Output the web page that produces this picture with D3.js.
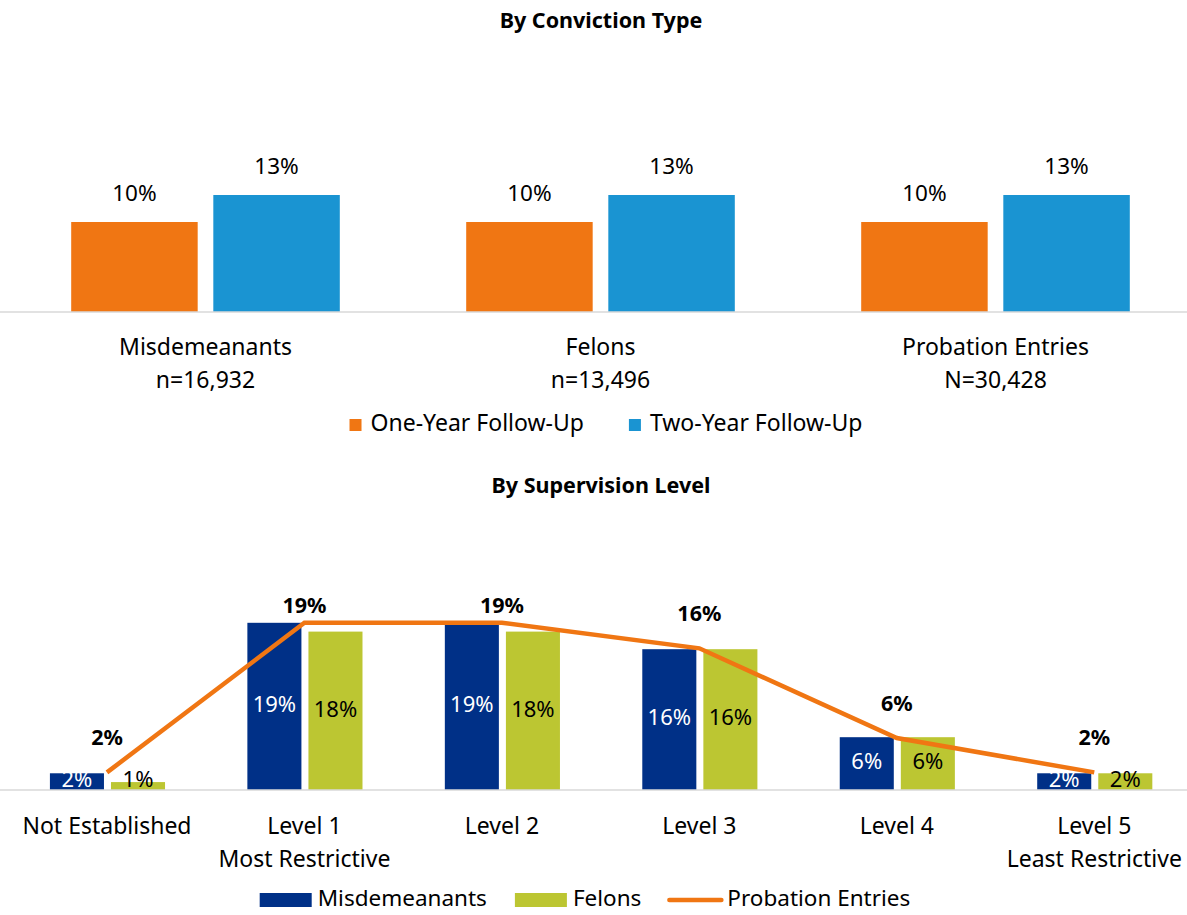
<!DOCTYPE html>
<html>
<head>
<meta charset="utf-8">
<style>
  body { margin: 0; background: #fff; }
  svg text { font-family: "Noto Sans", sans-serif; fill: #000; }
</style>
</head>
<body>
<div class="chart"></div>
<script src="https://d3js.org/d3.v7.min.js"></script>
<script>
  // top chart: by conviction type
  const convCats = ['Misdemeanants', 'Felons', 'Probation Entries'];
  const convN = ['n=16,932', 'n=13,496', 'N=30,428'];
  const oneYear = [10, 10, 10];
  const twoYear = [13, 13, 13];

  // bottom chart: by supervision level
  const levelCats = ['Not Established', 'Level 1', 'Level 2', 'Level 3', 'Level 4', 'Level 5'];
  const levelSub = ['', 'Most Restrictive', '', '', '', 'Least Restrictive'];
  const misdVals = [1.9, 19, 19, 16, 6, 1.9];
  const felonVals = [0.9, 18, 18, 16, 6, 1.9];
  const probVals = [2, 19, 19, 16.1, 5.9, 2];

  const W = 1187, H = 915;
  const orange = '#f07613', blue = '#1a94d2', navy = '#003087', lime = '#bcc632';
  const pct = v => Math.round(v) + '%';
  const fs = '23px';

  const svg = d3.select('.chart').append('svg')
                .attr('width', W)
                .attr('height', H);

  // ---------- top ----------
  const base1 = 312;
  svg.append('text')
     .attr('x', 601).attr('y', 22)
     .attr('text-anchor', 'middle').attr('dominant-baseline', 'middle')
     .style('font-weight', 'bold').style('font-size', '21.5px')
     .text('By Conviction Type');

  const x1 = d3.scaleBand().domain(convCats).range([8, 1193]);
  const x1s = d3.scaleBand().domain(['one', 'two'])
                .range([x1.bandwidth() * 0.16, x1.bandwidth() * 0.84])
                .paddingInner(0.11);
  const y1 = d3.scaleLinear().domain([0, 14]).range([base1, base1 - 126]);

  const rows1 = convCats.map((c, i) => ({c, i, one: oneYear[i], two: twoYear[i]}));
  const g1 = svg.append('g').selectAll('g.cat').data(rows1).join('g')
                .attr('class', 'cat')
                .attr('transform', d => `translate(${x1(d.c)},0)`);
  [['one', orange], ['two', blue]].forEach(([k, col]) => {
    g1.append('rect')
      .attr('x', x1s(k)).attr('width', x1s.bandwidth())
      .attr('y', d => y1(d[k])).attr('height', d => base1 - y1(d[k]))
      .attr('fill', col);
    g1.append('text')
      .attr('x', x1s(k) + x1s.bandwidth() / 2)
      .attr('y', d => y1(d[k]) - 27)
      .attr('text-anchor', 'middle').attr('dominant-baseline', 'middle')
      .style('font-size', '22.5px')
      .text(d => pct(d[k]));
  });

  const ax1 = svg.append('g')
     .attr('transform', `translate(0,${base1})`)
     .call(d3.axisBottom(x1).tickSize(0).tickFormat(''));
  ax1.select('.domain').attr('d', 'M0,0H1187').attr('stroke', '#d9d9d9').attr('stroke-width', 1.5);
  ax1.selectAll('.tick').each(function(d, i) {
    const t = d3.select(this).append('text')
      .attr('text-anchor', 'middle').style('font-size', fs);
    t.append('tspan').attr('x', 0).attr('y', 43).text(d);
    t.append('tspan').attr('x', 0).attr('y', 76).text(convN[i]);
  });

  // top legend
  drawLegend(svg, 606, 425, [
    {label: 'One-Year Follow-Up', color: orange, type: 'sq'},
    {label: 'Two-Year Follow-Up', color: blue, type: 'sq'}
  ], 12, 9, 45, fs);

  // ---------- bottom ----------
  const base2 = 790;
  svg.append('text')
     .attr('x', 601).attr('y', 487)
     .attr('text-anchor', 'middle').attr('dominant-baseline', 'middle')
     .style('font-weight', 'bold').style('font-size', '21.5px')
     .text('By Supervision Level');

  const x2 = d3.scaleBand().domain(levelCats).range([8.25, 1193]);
  const x2s = d3.scaleBand().domain(['m', 'f'])
                .range([x2.bandwidth() * 0.211, x2.bandwidth() * 0.794])
                .paddingInner(0.115);
  const y2 = d3.scaleLinear().domain([0, 20]).range([base2, base2 - 176]);
  const plotTop2 = 590;

  const rows2 = levelCats.map((c, i) => ({c, i, m: misdVals[i], f: felonVals[i], p: probVals[i]}));
  const g2 = svg.append('g').selectAll('g.cat').data(rows2).join('g')
                .attr('class', 'cat')
                .attr('transform', d => `translate(${x2(d.c)},0)`);
  [['m', navy], ['f', lime]].forEach(([k, col]) => {
    g2.append('rect')
      .attr('x', x2s(k)).attr('width', x2s.bandwidth())
      .attr('y', d => y2(d[k])).attr('height', d => base2 - y2(d[k]))
      .attr('fill', col);
  });

  const ax2 = svg.append('g')
     .attr('transform', `translate(0,${base2})`)
     .call(d3.axisBottom(x2).tickSize(0).tickFormat(''));
  ax2.select('.domain').attr('d', 'M0,0H1187').attr('stroke', '#d9d9d9').attr('stroke-width', 1.5);
  ax2.selectAll('.tick').each(function(d, i) {
    const t = d3.select(this).append('text')
      .attr('text-anchor', 'middle').style('font-size', fs);
    t.append('tspan').attr('x', 0).attr('y', 44).text(d);
    t.append('tspan').attr('x', 0).attr('y', 77).text(levelSub[i]);
  });

  // bar labels (drawn after axis so they sit on top)
  [['m', '#fff'], ['f', '#000']].forEach(([k, tcol]) => {
    g2.append('text')
      .attr('x', x2s(k) + x2s.bandwidth() / 2)
      .attr('y', d => Math.min((y2(d[k]) + base2) / 2, base2 - 9))
      .attr('text-anchor', 'middle').attr('dominant-baseline', 'middle')
      .style('font-size', '22px').style('fill', tcol)
      .text(d => pct(d[k]));
  });

  const line = d3.line()
                 .x(d => x2(d.c) + x2.bandwidth() / 2)
                 .y(d => y2(d.p));
  svg.append('path')
     .attr('d', line(rows2))
     .attr('fill', 'none')
     .attr('stroke', orange)
     .attr('stroke-width', 4.5);

  // line labels, kept inside the plot area like the original
  svg.append('g').selectAll('text').data(rows2).join('text')
     .attr('x', d => x2(d.c) + x2.bandwidth() / 2)
     .attr('y', d => Math.max(y2(d.p) - 33, plotTop2 + 17))
     .attr('text-anchor', 'middle').attr('dominant-baseline', 'middle')
     .style('font-size', '21.5px').style('font-weight', 'bold')
     .text(d => pct(d.p));

  drawLegend(svg, 585, 900, [
    {label: 'Misdemeanants', color: navy, type: 'bar'},
    {label: 'Felons', color: lime, type: 'bar'},
    {label: 'Probation Entries', color: orange, type: 'line'}
  ], 52, 6, 28, '22.5px');

  function drawLegend(svg, cx, cy, items, sw, gap, itemGap, size) {
    const lg = svg.append('g');
    let x = 0;
    items.forEach(it => {
      const g = lg.append('g').attr('transform', `translate(${x},0)`);
      if (it.type === 'line') {
        g.append('line').attr('x1', 0).attr('x2', sw).attr('y1', cy).attr('y2', cy)
         .attr('stroke', it.color).attr('stroke-width', 4.5).attr('stroke-linecap', 'round');
      } else {
        const h = it.type === 'sq' ? sw : 14;
        g.append('rect').attr('x', 0).attr('y', cy - h / 2)
         .attr('width', sw).attr('height', h).attr('fill', it.color);
      }
      const t = g.append('text').attr('x', sw + gap).attr('y', cy)
         .attr('dominant-baseline', 'middle').style('font-size', size)
         .text(it.label);
      x += sw + gap + t.node().getComputedTextLength() + itemGap;
    });
    x -= itemGap;
    lg.attr('transform', `translate(${cx - x / 2},0)`);
  }
</script>
</body>
</html>
